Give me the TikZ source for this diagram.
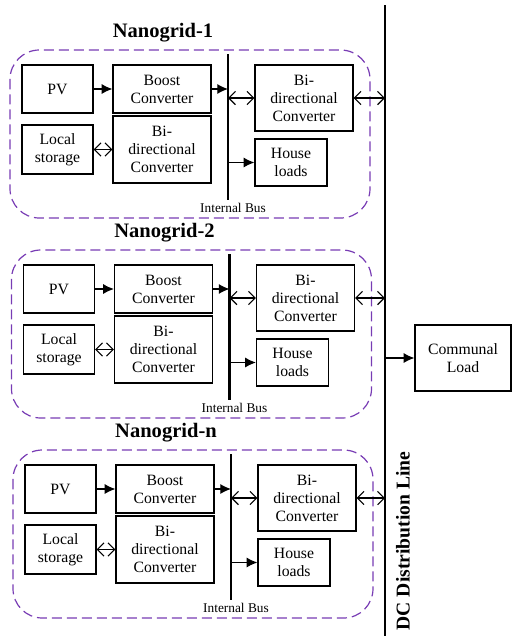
\documentclass[tikz,border=0pt]{standalone}
\usepackage{fontspec}
\setmainfont{Liberation Serif}
\usetikzlibrary{arrows.meta}
\definecolor{gridpurple}{RGB}{120,60,180}
\begin{document}
\begin{tikzpicture}[x=0.75pt, y=-0.75pt,
    box/.style  = {draw, line width=0.9pt, align=center, inner sep=0pt,
                   font=\fontsize{11.8}{13.5}\selectfont},
    grid/.style = {draw=gridpurple, line width=0.9pt,
                   dash pattern=on 7.5pt off 3.75pt, rounded corners=22pt},
    bus/.style  = {line width=2.2pt},
    flow/.style = {line width=0.9pt, -{Latex[length=8pt,width=7.5pt]}},
    both/.style = {line width=0.8pt,
                   {Straight Barb[length=5pt,width=10pt]}-{Straight Barb[length=5pt,width=10pt]}}]
        \useasboundingbox (0,0) rectangle (512,644);
        % DC distribution line
        \coordinate (dctop) at (385,5);
        \coordinate (dcbot) at (385,636);
        \draw[bus] (dctop) -- (dcbot);
        \node[rotate=90, font=\bfseries\fontsize{14.7}{17}\selectfont] (dclabel) at (403,541) {DC Distribution Line};
        \node[box, minimum width=72pt, minimum height=49.5pt] (communal) at (463,358) {Communal\\Load};
        \draw[flow] (communal.west -| dctop) -- (communal.west);
        % one block per nanogrid
        \foreach \g/\dx/\dy in {1/0/0, 2/1.5/200, n/3/400} {
          \begin{scope}[shift={(\dx,\dy)}]
            \node[font=\bfseries\fontsize{15.4}{18}\selectfont] (title\g) at (163,33) {Nanogrid-\g};
            \draw[grid] (10,50) rectangle (370,218);
            \node[box, minimum width=53.25pt, minimum height=36pt]    (pv\g)      at (57.5,89)    {PV};
            \node[box, minimum width=73.5pt,  minimum height=36pt]    (boost\g)   at (162,89)     {Boost\\Converter};
            \node[box, minimum width=53.25pt, minimum height=36.75pt] (storage\g) at (57.5,149.5) {Local\\storage};
            \node[box, minimum width=73.5pt,  minimum height=50.25pt] (bidirl\g)  at (162,149.5)  {Bi-\\directional\\Converter};
            \node[box, minimum width=73.5pt,  minimum height=49.5pt]  (bidirr\g)  at (304,98)     {Bi-\\directional\\Converter};
            \node[box, minimum width=54pt,    minimum height=35.25pt] (house\g)   at (291,162.5)  {House\\loads};
            \coordinate (bustop\g) at (228,54);
            \coordinate (busbot\g) at (228,200);
            \draw[bus] (bustop\g) -- (busbot\g);
            \node[font=\fontsize{10}{12}\selectfont] (buslabel\g) at (233,207.5) {Internal Bus};
            \draw[flow] (pv\g) -- (boost\g);
            \draw[flow] (boost\g.east) -- (boost\g.east -| bustop\g);
            \draw[both] (storage\g.east) -- (storage\g.east -| bidirl\g.west);
            \draw[both] (bidirr\g.west -| bustop\g) -- (bidirr\g.west);
            \draw[flow] (house\g.west -| bustop\g) -- (house\g.west);
            \draw[both] (bidirr\g.east) -- (bidirr\g.east -| dctop);
          \end{scope}
        }
\end{tikzpicture}
\end{document}
